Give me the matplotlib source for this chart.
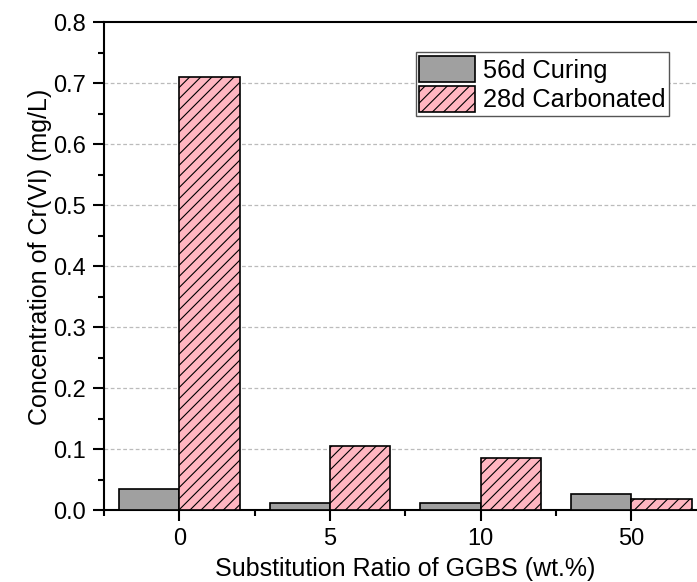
#!/usr/bin/env python3
"""Cr(VI) leaching: 56d curing vs 28d carbonated, by GGBS substitution ratio."""
import numpy as np
import matplotlib
matplotlib.use("Agg")
import matplotlib.pyplot as plt
from matplotlib.ticker import MultipleLocator

plt.rcParams["font.family"] = ["Liberation Sans", "DejaVu Sans"]
plt.rcParams["hatch.linewidth"] = 0.8

ratios = ["0", "5", "10", "50"]
curing_56d = [0.034, 0.012, 0.011, 0.027]
carbonated_28d = [0.710, 0.105, 0.086, 0.018]

fig = plt.figure(figsize=(6.97, 5.82), dpi=100)
ax = fig.add_axes([0.149, 0.1237, 0.865, 0.838])

x = np.arange(len(ratios))
w = 0.4
ax.bar(x - w / 2, curing_56d, w, color="#A0A0A0", edgecolor="black",
       linewidth=1.2, label="56d Curing", zorder=3)
ax.bar(x + w / 2, carbonated_28d, w, color="#FFB6C1", edgecolor="black",
       linewidth=1.2, hatch="///", label="28d Carbonated", zorder=3)

ax.set_xlim(-0.5, 3.5)
ax.set_ylim(0, 0.8)
ax.set_xticks(x)
ax.set_xticklabels(ratios)
ax.xaxis.set_minor_locator(MultipleLocator(0.5))
ax.yaxis.set_major_locator(MultipleLocator(0.1))
ax.yaxis.set_minor_locator(MultipleLocator(0.05))
ax.yaxis.set_major_formatter(plt.FormatStrFormatter("%.1f"))

for gy in np.arange(0.1, 0.75, 0.1):
    ax.axhline(gy, color="#BBBBBB", lw=0.9, ls=(0, (3, 2)), zorder=1)

for s in ax.spines.values():
    s.set_linewidth(1.5)
ax.tick_params(which="major", direction="out", length=8, width=1.5,
               labelsize=17, pad=5)
ax.tick_params(which="minor", direction="out", length=4, width=1.5)

ax.set_xlabel("Substitution Ratio of GGBS (wt.%)", fontsize=18, labelpad=5)
ax.set_ylabel("Concentration of Cr(VI) (mg/L)", fontsize=18, labelpad=1)
ax.yaxis.label.set_y(0.52)

leg = ax.legend(loc="upper left", bbox_to_anchor=(0.517, 0.9385), fontsize=18.3,
                fancybox=False, framealpha=1, edgecolor="#555555",
                handlelength=2.2, handleheight=1.2, borderpad=0.15,
                labelspacing=0.12, handletextpad=0.3, borderaxespad=0)
leg.get_frame().set_linewidth(1.0)

fig.savefig("out.png", dpi=100, facecolor="white")
